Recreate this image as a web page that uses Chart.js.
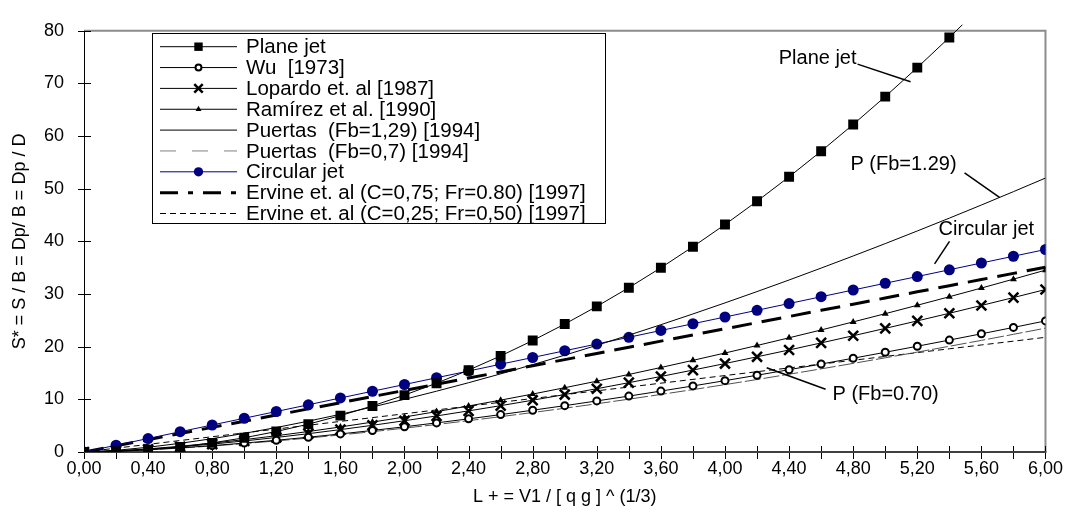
<!DOCTYPE html>
<html><head><meta charset="utf-8">
<script src="https://cdn.jsdelivr.net/npm/chart.js@4.4.1/dist/chart.umd.min.js"></script>
<style>html,body{margin:0;padding:0;background:#fff}#wrap{width:1069px;height:531px}</style>
</head><body><div id="wrap"><canvas id="c" width="1069" height="531"></canvas></div>
<script>
const xValues = [0,0.2,0.4,0.6,0.8,1.0,1.2,1.4,1.6,1.8,2.0,2.2,2.4,2.6,2.8,3.0,3.2,3.4,3.6,3.8,4.0,4.2,4.4,4.6,4.8,5.0,5.2,5.4,5.6,5.8,6.0];
const planeJet = [0,0.11,0.43,0.97,1.73,2.70,3.89,5.29,6.91,8.75,10.80,13.07,15.55,18.25,21.17,24.30,27.65,31.21,34.99,38.99,43.20,47.63,52.27,57.13,62.21,67.50,73.01,78.73,84.67,90.83,97.20];
const wu1973 = [0,0.15,0.43,0.79,1.21,1.69,2.23,2.81,3.43,4.09,4.79,5.53,6.30,7.10,7.94,8.80,9.70,10.62,11.57,12.55,13.55,14.58,15.63,16.71,17.81,18.94,20.09,21.26,22.45,23.66,24.90];
const lopardo1987 = [0,0.19,0.53,0.98,1.50,2.10,2.76,3.48,4.25,5.07,5.94,6.85,7.81,8.80,9.84,10.91,12.02,13.17,14.34,15.56,16.80,18.08,19.38,20.72,22.08,23.48,24.90,26.35,27.83,29.33,30.86];
const ramirez1990 = [0,0.21,0.59,1.09,1.68,2.35,3.09,3.89,4.76,5.68,6.65,7.67,8.74,9.85,11.01,12.21,13.45,14.73,16.05,17.41,18.80,20.23,21.69,23.18,24.71,26.27,27.87,29.49,31.14,32.83,34.54];
const puertas129 = [0,0.32,0.90,1.65,2.53,3.54,4.65,5.86,7.16,8.55,10.01,11.55,13.16,14.84,16.59,18.39,20.26,22.19,24.18,26.22,28.32,30.47,32.67,34.93,37.23,39.58,41.98,44.42,46.91,49.45,52.03];
const puertas07 = [0,0.14,0.40,0.74,1.14,1.60,2.10,2.65,3.24,3.86,4.53,5.22,5.95,6.71,7.50,8.31,9.16,10.03,10.93,11.85,12.80,13.77,14.77,15.79,16.83,17.89,18.97,20.08,21.20,22.35,23.52];
const circularJet = [0,1.28,2.56,3.85,5.13,6.41,7.69,8.97,10.26,11.54,12.82,14.10,15.38,16.67,17.95,19.23,20.51,21.79,23.08,24.36,25.64,26.92,28.20,29.49,30.77,32.05,33.33,34.61,35.90,37.18,38.46];
const ervine075 = [0,1.17,2.34,3.51,4.68,5.85,7.02,8.19,9.36,10.53,11.70,12.87,14.04,15.21,16.38,17.55,18.72,19.89,21.06,22.23,23.40,24.57,25.74,26.91,28.08,29.25,30.42,31.59,32.76,33.93,35.10];
const ervine025 = [0,0.73,1.45,2.18,2.90,3.63,4.36,5.08,5.81,6.53,7.26,7.99,8.71,9.44,10.16,10.89,11.62,12.34,13.07,13.79,14.52,15.25,15.97,16.70,17.42,18.15,18.88,19.60,20.33,21.05,21.78];
const seriesNames = ["Plane jet","Wu  [1973]","Lopardo et. al [1987]","Ramírez et al. [1990]","Puertas  (Fb=1,29) [1994]","Puertas  (Fb=0,7) [1994]","Circular jet","Ervine et. al (C=0,75; Fr=0.80) [1997]","Ervine et. al (C=0,25; Fr=0,50) [1997]"];
const xTitle = "L + = V1 / [ q g ] ^ (1/3)";
const yTitle = "S* = S / B = Dp/ B = Dp / D";
const annotations = [
  {text:"Plane jet", tx:4.821, ty:74.8, align:"right", l:[4.827,73.67,5.158,70.33]},
  {text:"P (Fb=1.29)", tx:5.445, ty:54.7, align:"right", l:[5.495,53.02,5.713,48.37]},
  {text:"Circular jet", tx:5.333, ty:42.2, align:"left", l:[5.401,40.0,5.308,35.72]},
  {text:"P (Fb=0.70)", tx:4.671, ty:11.0, align:"left", l:[4.260,16.0,4.628,11.91]}
];

const FONT = "'Liberation Sans', Arial, sans-serif";
const pts = arr => xValues.map((x,i)=>({x:x, y:arr[i]}));

const datasets = [
  {label:seriesNames[0], data:pts(planeJet), borderColor:'#000', backgroundColor:'#000', borderWidth:1, pointStyle:'rect', pointRadius:7, pointBorderWidth:0, clip:{left:0,top:6,right:0,bottom:0}},
  {label:seriesNames[1], data:pts(wu1973), borderColor:'#000', backgroundColor:'#fff', pointBorderColor:'#000', borderWidth:1, pointStyle:'circle', pointRadius:3.5, pointBorderWidth:2},
  {label:seriesNames[2], data:pts(lopardo1987), borderColor:'#000', backgroundColor:'#000', borderWidth:1, pointStyle:'crossRot', pointRadius:7, pointBorderWidth:2.5},
  {label:seriesNames[3], data:pts(ramirez1990), borderColor:'#000', backgroundColor:'#000', borderWidth:1, pointStyle:'triangle', pointRadius:4, pointBorderWidth:0},
  {label:seriesNames[4], data:pts(puertas129), borderColor:'#000', borderWidth:1, pointRadius:0},
  {label:seriesNames[5], data:pts(puertas07), borderColor:'#505050', borderWidth:1, borderDash:[16,3], pointRadius:0},
  {label:seriesNames[6], data:pts(circularJet), borderColor:'#000080', backgroundColor:'#000080', borderWidth:1, pointStyle:'circle', pointRadius:5.5, pointBorderWidth:0},
  {label:seriesNames[7], data:pts(ervine075), borderColor:'#000', borderWidth:3, borderDash:[20,10], pointRadius:0},
  {label:seriesNames[8], data:pts(ervine025), borderColor:'#000', borderWidth:1, borderDash:[6,4], pointRadius:0}
];
const legendDash = [[],[],[],[],[],[16,16],[],[18,10,5,10],[6,4]];
const legendColor = [null,null,null,null,null,'#808080',null,null,null];

const decor = {
  id:'decor',
  beforeDatasetsDraw(chart){
    const {ctx, chartArea:a, scales:{x,y}} = chart;
    ctx.save();
    ctx.strokeStyle='#8c8c8c'; ctx.lineWidth=2;
    ctx.beginPath(); ctx.moveTo(a.left, a.top); ctx.lineTo(a.right, a.top); ctx.lineTo(a.right, a.bottom); ctx.stroke();
    ctx.strokeStyle='#000'; ctx.lineWidth=1;
    ctx.beginPath(); ctx.moveTo(a.left+0.5, a.top); ctx.lineTo(a.left+0.5, a.bottom); ctx.stroke();
    x.ticks.forEach(t=>{ const px=Math.round(x.getPixelForValue(t.value))+0.5; ctx.beginPath(); ctx.moveTo(px,a.bottom-6); ctx.lineTo(px,a.bottom+7); ctx.stroke();});
    y.ticks.forEach(t=>{ const py=Math.round(y.getPixelForValue(t.value))+0.5; ctx.beginPath(); ctx.moveTo(a.left-6,py); ctx.lineTo(a.left+7,py); ctx.stroke();});
    ctx.strokeStyle='#404040'; ctx.lineWidth=2;
    ctx.beginPath(); ctx.moveTo(a.left, a.bottom); ctx.lineTo(a.right+1, a.bottom); ctx.stroke();
    ctx.restore();
  },
  afterDraw(chart){
    const {ctx, scales:{x,y}} = chart;
    ctx.save();
    ctx.font = "20px " + FONT;
    ctx.fillStyle = '#000'; ctx.strokeStyle='#000'; ctx.lineWidth=1.5;
    ctx.textBaseline = 'middle';
    annotations.forEach(an=>{
      ctx.textAlign = an.align;
      ctx.fillText(an.text, x.getPixelForValue(an.tx), y.getPixelForValue(an.ty));
      ctx.beginPath();
      ctx.moveTo(x.getPixelForValue(an.l[0]), y.getPixelForValue(an.l[1]));
      ctx.lineTo(x.getPixelForValue(an.l[2]), y.getPixelForValue(an.l[3]));
      ctx.stroke();
    });
    // legend box
    const L={left:152, top:33, right:605, bottom:223, row0:46.7, rowH:20.85, x0:160, x1:237, tx:246};
    ctx.fillStyle='#fff'; ctx.fillRect(L.left, L.top, L.right-L.left, L.bottom-L.top);
    ctx.strokeStyle='#000'; ctx.lineWidth=1;
    ctx.strokeRect(L.left+0.5, L.top+0.5, L.right-L.left, L.bottom-L.top);
    ctx.textAlign='left';
    chart.data.datasets.forEach((ds,i)=>{
      const yy = L.row0 + i*L.rowH;
      ctx.save();
      ctx.strokeStyle = legendColor[i] || ds.borderColor; ctx.lineWidth = ds.borderWidth;
      ctx.setLineDash(legendDash[i]);
      ctx.beginPath(); ctx.moveTo(L.x0, yy); ctx.lineTo(L.x1, yy); ctx.stroke();
      ctx.setLineDash([]);
      if (ds.pointRadius > 0) {
        ctx.fillStyle = ds.backgroundColor;
        ctx.strokeStyle = ds.pointBorderColor || ds.borderColor;
        ctx.lineWidth = ds.pointBorderWidth;
        Chart.helpers.drawPoint(ctx, {pointStyle:ds.pointStyle, radius:ds.pointRadius*0.85, rotation:0, borderWidth:ds.pointBorderWidth}, (L.x0+L.x1)/2, yy);
      }
      ctx.restore();
      ctx.fillStyle='#000';
      ctx.font = "20.5px " + FONT;
      ctx.fillText(ds.label, L.tx, yy+1);
    });
    ctx.restore();
  }
};

new Chart(document.getElementById('c'), {
  type:'line',
  data:{datasets:datasets},
  options:{
    responsive:false, animation:false, devicePixelRatio:1,
    layout:{padding:{left:0, top:22, right:23, bottom:0}},
    plugins:{legend:{display:false}, tooltip:{enabled:false}},
    elements:{line:{tension:0}},
    scales:{
      x:{type:'linear', min:0, max:6,
        grid:{display:false, drawTicks:false}, border:{display:false},
        ticks:{stepSize:0.2, autoSkip:false, maxRotation:0, padding:6, color:'#000', font:{family:FONT, size:18}},
        title:{display:true, text:xTitle, color:'#000', font:{family:FONT, size:18}, padding:{top:0,bottom:23}},
        afterFit:s=>{ s.height = 79; }
      },
      y:{type:'linear', min:0, max:80,
        grid:{display:false, drawTicks:false}, border:{display:false},
        ticks:{stepSize:10, padding:20, color:'#000', font:{family:FONT, size:18}},
        title:{display:true, text:yTitle, color:'#000', font:{family:FONT, size:18}, padding:{top:9,bottom:0}},
        afterFit:s=>{ s.width = 84; }
      }
    }
  },
  plugins:[decor]
});
// tick label formatter (comma decimals, label every 0.4)
Chart.getChart('c').options.scales.x.ticks.callback = v => { const k=Math.round(v*10); return (k%4===0) ? (k/10).toFixed(2).replace('.',',') : ''; };
Chart.getChart('c').update();
</script></body></html>
